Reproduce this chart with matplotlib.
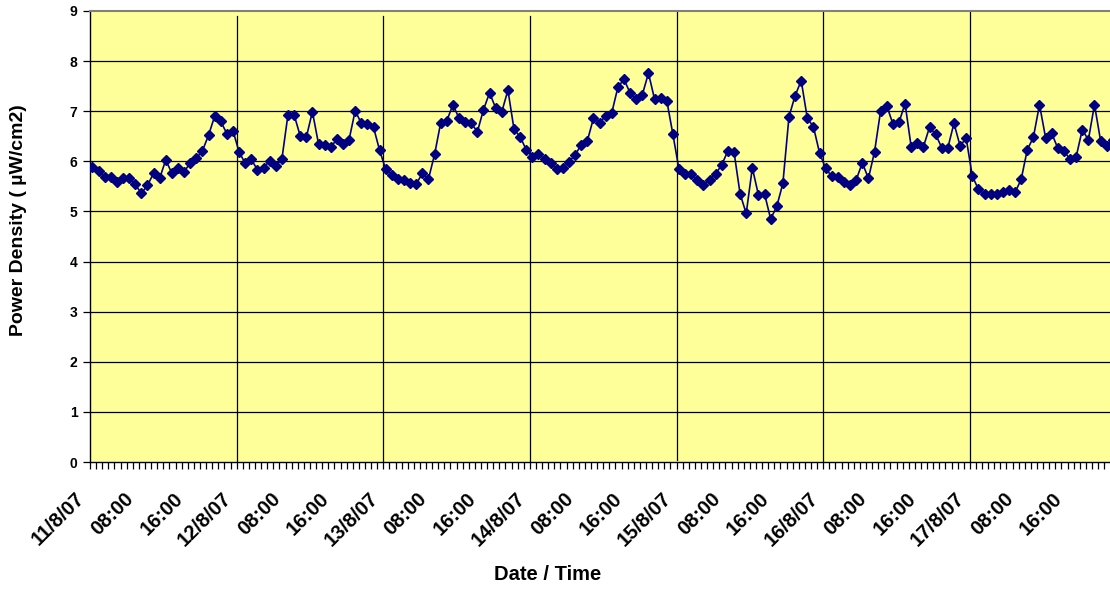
import matplotlib
matplotlib.use("Agg")
import matplotlib.pyplot as plt
import matplotlib.transforms as mtransforms
import numpy as np

# ---- data ----
day1 = [5.89, 5.81, 5.68, 5.69, 5.59, 5.66, 5.67, 5.54, 5.36, 5.52, 5.76, 5.66,
        6.03, 5.76, 5.86, 5.79, 5.97, 6.06, 6.21, 6.52, 6.90, 6.80, 6.55, 6.61]
day2 = [6.19, 5.96, 6.04, 5.83, 5.87, 6.01, 5.91, 6.04, 6.93, 6.93, 6.51, 6.48,
        6.99, 6.35, 6.33, 6.28, 6.44, 6.34, 6.43, 7.01, 6.76, 6.74, 6.68, 6.22]
day3 = [5.84, 5.73, 5.65, 5.63, 5.56, 5.55, 5.76, 5.65, 6.14, 6.77, 6.81, 7.13,
        6.86, 6.78, 6.76, 6.59, 7.03, 7.37, 7.06, 6.99, 7.42, 6.64, 6.49, 6.23]
day4 = [6.09, 6.15, 6.04, 5.96, 5.84, 5.86, 5.99, 6.13, 6.33, 6.41, 6.86, 6.77,
        6.91, 6.97, 7.48, 7.64, 7.36, 7.24, 7.33, 7.76, 7.24, 7.26, 7.21, 6.54]
day5 = [5.84, 5.74, 5.74, 5.63, 5.53, 5.63, 5.75, 5.93, 6.21, 6.19, 5.35, 4.96,
        5.87, 5.33, 5.35, 4.85, 5.10, 5.56, 6.89, 7.31, 7.61, 6.86, 6.69, 6.17]
day6 = [5.86, 5.70, 5.68, 5.59, 5.52, 5.63, 5.97, 5.66, 6.19, 7.01, 7.11, 6.75,
        6.78, 7.15, 6.29, 6.36, 6.29, 6.68, 6.54, 6.27, 6.27, 6.76, 6.31, 6.46]
day7 = [5.71, 5.44, 5.35, 5.35, 5.34, 5.38, 5.43, 5.38, 5.64, 6.23, 6.48, 7.13,
        6.47, 6.56, 6.26, 6.21, 6.04, 6.09, 6.63, 6.43, 7.13, 6.41, 6.31, 6.43]

tick_hours = [0, 8, 16, 24, 32, 40, 48, 56, 64, 72, 80, 88, 96, 104, 112,
              120, 128, 136, 144, 152, 160]
tick_labels = ['11/8/07', '08:00', '16:00', '12/8/07', '08:00', '16:00',
               '13/8/07', '08:00', '16:00', '14/8/07', '08:00', '16:00',
               '15/8/07', '08:00', '16:00', '16/8/07', '08:00', '16:00',
               '17/8/07', '08:00', '16:00']
day_hours = [24, 48, 72, 96, 120, 144]

values = day1 + day2 + day3 + day4 + day5 + day6 + day7
hours = np.arange(len(values)) + 0.4   # hourly readings

plt.rcParams['font.family'] = ['Liberation Sans', 'DejaVu Sans']

W, H = 1110, 589
fig = plt.figure(figsize=(W / 100, H / 100), dpi=100)
fig.patch.set_facecolor('white')
left, right, top, bottom = 90, 1110, 11, 462
ax = fig.add_axes([left / W, (H - bottom) / H, (right - left) / W, (bottom - top) / H])
ax.set_facecolor('#FFFF99')

hour_px = 6.11
ax.set_xlim(0, (right - left) / hour_px)
ax.set_ylim(0, 9)

# horizontal gridlines
for y in range(1, 9):
    ax.axhline(y, color='black', lw=0.9, zorder=1)

# day separator lines
vl_tops = [8.9, 8.9, 8.9, 9.0, 9.0, 9.0]
vl_bottoms = [0, 0, 0, 0.04, 0, 0]
for h, t, b in zip(day_hours, vl_tops, vl_bottoms):
    ax.plot([h, h], [b, t], color='black', lw=0.9, zorder=1)

ax.plot(hours, values, color='#000080', lw=1.2, marker='D', markersize=5.2,
        markerfacecolor='#000080', markeredgecolor='#000080', zorder=3)

ax.spines['right'].set_visible(False)
ax.spines['top'].set_color('#808080')
ax.spines['top'].set_linewidth(1.5)
ax.spines['left'].set_color('black')
ax.spines['bottom'].set_color('black')
ax.spines['left'].set_linewidth(1.0)
ax.spines['bottom'].set_linewidth(1.0)

ax.set_yticks(range(0, 10))
ax.set_yticklabels([str(v) for v in range(0, 10)], fontsize=10, fontweight='bold')
ax.tick_params(axis='y', direction='out', length=5, width=0.9, pad=4)

ax.set_xticks(tick_hours)
ax.set_xticklabels(tick_labels, rotation=45, ha='right', va='center',
                   rotation_mode='anchor', fontsize=14.5, fontweight='bold')
ax.set_xticks(np.arange(0, 167, 1), minor=True)
ax.tick_params(axis='x', which='both', direction='out', length=5, width=0.9, pad=19)
shift = mtransforms.ScaledTranslation(-8 / 100, 0, fig.dpi_scale_trans)
for lab in ax.get_xticklabels():
    lab.set_transform(lab.get_transform() + shift)

fig.text(548 / W, 1 - 575 / H, 'Date / Time', ha='center', va='center',
         fontsize=14.5, fontweight='bold')
fig.text(18.5 / W, 1 - 220 / H, 'Power Density ( µW/cm2)', ha='center', va='center',
         rotation=90, fontsize=14, fontweight='bold')

fig.savefig('out.png', dpi=100)
